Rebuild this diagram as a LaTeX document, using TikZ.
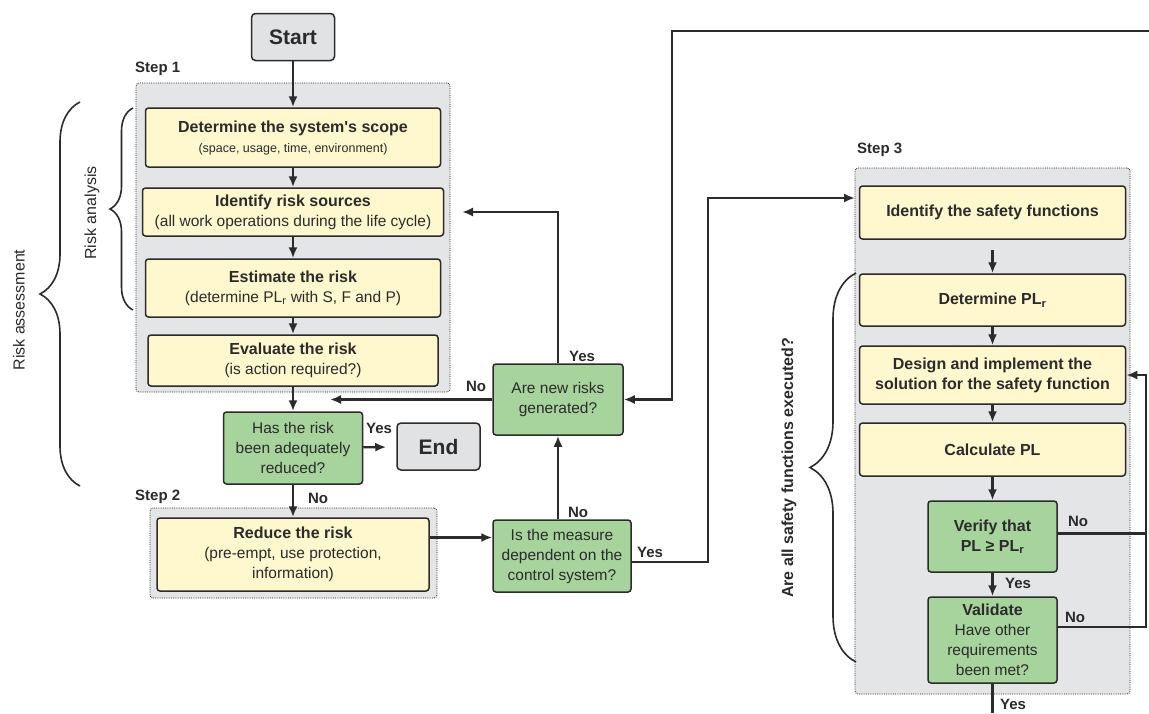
\documentclass[tikz,border=0pt]{standalone}
\usepackage{fontspec}
\setmainfont{Liberation Sans}
\usetikzlibrary{calc,positioning,arrows,arrows.meta,fit,shapes,decorations.pathreplacing}
\definecolor{boxyel}{HTML}{FFF7CD}
\definecolor{boxgrn}{HTML}{A7D39D}
\definecolor{stepgry}{HTML}{E4E5E7}
\definecolor{termgry}{HTML}{E1E2E4}
\definecolor{inkgry}{HTML}{2B2B2B}
\newcommand{\fsz}[2]{\fontsize{#1}{#2}\selectfont}
\newcommand{\PLr}{PL\textsubscript{r}}
\newcommand{\ttl}[1]{{\fsz{16}{20}\bfseries #1}}

\begin{document}
\begin{tikzpicture}[x=1pt,y=-1pt,font=\fsz{15.5}{20},
  every node/.style={text=inkgry},
  ybox/.style={draw=inkgry,line width=1.5pt,fill=boxyel,rounded corners=3pt,align=center,inner sep=2pt},
  gbox/.style={draw=inkgry,line width=1.5pt,fill=boxgrn,rounded corners=3pt,align=center,inner sep=2pt},
  term/.style={draw=inkgry,line width=1.5pt,fill=termgry,rounded corners=4pt,font=\fsz{21}{25}\bfseries,minimum width=83pt,minimum height=47pt},
  stepbg/.style={draw=inkgry,densely dotted,line width=0.8pt,fill=stepgry,rounded corners=3pt},
  lbl/.style={font=\fsz{15}{18}\bfseries,inner sep=1pt},
  con/.style={line width=2.2pt,draw=inkgry},
  brc/.style={decorate,decoration={brace,amplitude=#1},line width=1.6pt,draw=inkgry},
  >={Latex[length=11pt,width=9pt]}]
  \fill[white] (0,0) rectangle (1149,713);
  \useasboundingbox (0,0) rectangle (1149,713);

  % step areas
  \node[stepbg,minimum width=314pt,minimum height=309pt] (step1bg) at (293,237.5) {};
  \node[stepbg,minimum width=287pt,minimum height=90pt] (step2bg) at (293.5,553) {};
  \node[stepbg,minimum width=275pt,minimum height=526pt] (step3bg) at (992.5,431) {};
  \node[lbl,anchor=west] (s1lbl) at (134,69) {Step 1};
  \node[lbl,anchor=west] (s2lbl) at (134,497) {Step 2};
  \node[lbl,anchor=west] (s3lbl) at (856,150) {Step 3};

  % step 1 and 2
  \node[term] (start) at (293,37) {Start};
  \node[ybox,minimum width=295pt,minimum height=59pt] (scope) at (293,137.5)
    {\ttl{Determine the system\textquotesingle s scope}\\{\fsz{12.5}{16}(space, usage, time, environment)}};
  \node[ybox,minimum width=301pt,minimum height=48pt] (sources) at (293,212)
    {\ttl{Identify risk sources}\\(all work operations during the life cycle)};
  \node[ybox,minimum width=295pt,minimum height=58pt] (estim) at (293,288)
    {\ttl{Estimate the risk}\\(determine \PLr{} with S, F and P)};
  \node[ybox,minimum width=290pt,minimum height=51pt] (evalr) at (293,360.5)
    {\ttl{Evaluate the risk}\\(is action required?)};
  \node[gbox,minimum width=139pt,minimum height=72pt] (reduced) at (293,448)
    {Has the risk\\been adequately\\reduced?};
  \node[term] (endn) at (438.5,446.5) {End};
  \node[ybox,minimum width=272pt,minimum height=73pt] (reduce) at (293,554.5)
    {\ttl{Reduce the risk}\\(pre-empt, use protection,\\information)};
  \node[gbox,minimum width=138pt,minimum height=72pt] (measure) at (562,556)
    {Is the measure\\dependent on the\\control system?};
  \node[gbox,minimum width=130pt,minimum height=71pt] (newrisk) at (558,399.5)
    {Are new risks\\generated?};

  % step 3
  \node[ybox,minimum width=266pt,minimum height=53pt] (safefn) at (992.5,212.5)
    {\ttl{Identify the safety functions}};
  \node[ybox,minimum width=266pt,minimum height=52pt] (plr) at (992.5,300)
    {\ttl{Determine \PLr}};
  \node[ybox,minimum width=266pt,minimum height=58pt] (design) at (992.5,375)
    {\ttl{Design and implement the}\\\ttl{solution for the safety function}};
  \node[ybox,minimum width=266pt,minimum height=53pt] (calcpl) at (992.5,449.5)
    {\ttl{Calculate PL}};
  \node[gbox,minimum width=129pt,minimum height=71pt] (verify) at (992.5,536.5)
    {\ttl{Verify that}\\\ttl{PL ≥ \PLr}};
  \node[gbox,minimum width=129pt,minimum height=86pt] (valid) at (992.5,640)
    {\ttl{Validate}\\Have other\\requirements\\been met?};

  \coordinate (yesend) at (462,212);
  \coordinate (noend) at (330,399.5);
  \coordinate (yescorner) at (708,562);
  \coordinate (s3in) at (855,198);
  \coordinate (loopin) at (1149,31);
  \coordinate (loopcorner) at (672,31);
  \coordinate (fb) at (1146,375);
  \coordinate (yesout) at (992.5,713);

  \draw[con,->] (start) -- (scope);
  \draw[con,->] (scope) -- (sources);
  \draw[con,->] (sources) -- (estim);
  \draw[con,->] (estim) -- (evalr);
  \draw[con,->] (evalr) -- (reduced);
  \draw[con,->] (reduced) -- (reduce);
  \draw[con,->,shorten >=10pt] (reduced) -- (endn);
  \draw[con,->] ([yshift=17pt]reduce.east) -- ([yshift=17pt]reduce.east -| measure.west);
  \draw[con,->] (newrisk.south |- measure.north) -- (newrisk.south);
  \draw[con,->] (newrisk.north) |- (yesend);
  \draw[con,->] (newrisk.west) -- (noend);
  \draw[con,->] ([yshift=-6pt]measure.east) -- (yescorner) |- (s3in);
  \draw[con,->] (loopin) -- (loopcorner) |- (newrisk.east);

  \draw[con,->,shorten <=10pt] (safefn) -- (plr);
  \draw[con,->] (plr) -- (design);
  \draw[con,->] (design) -- (calcpl);
  \draw[con,->] (calcpl) -- (verify);
  \draw[con,->] (verify) -- (valid);
  \draw[con,->] ([yshift=3pt]verify.east) -| (fb) -- (design.east);
  \draw[con] ([yshift=13pt]valid.east) -| (fb);
  \draw[con] (valid.south) -- (yesout);

  % yes / no
  \node[lbl] (no1) at (318,498) {No};
  \node[lbl] (yes1) at (379,428) {Yes};
  \node[lbl] (no2) at (476,386) {No};
  \node[lbl] (yes2) at (582,356) {Yes};
  \node[lbl] (no3) at (578,512) {No};
  \node[lbl] (yes3) at (650,552) {Yes};
  \node[lbl] (no4) at (1078,521) {No};
  \node[lbl] (yes4) at (1018,583) {Yes};
  \node[lbl] (no5) at (1075,617) {No};
  \node[lbl] (yes5) at (1013,704) {Yes};

  % braces
  \draw[brc=40] (80,486) -- (80,102);
  \draw[brc=23] (133,310) -- (133,108);
  \draw[brc=46] (856,662) -- (856,273);
  \node[rotate=90,font=\fsz{16}{19}] (rass) at (19,310) {Risk assessment};
  \node[rotate=90,font=\fsz{16}{19}] (rana) at (92,213) {Risk analysis};
  \node[rotate=90,font=\fsz{16}{19}\bfseries] (allsf) at (789,468) {Are all safety functions executed?};
\end{tikzpicture}
\end{document}
